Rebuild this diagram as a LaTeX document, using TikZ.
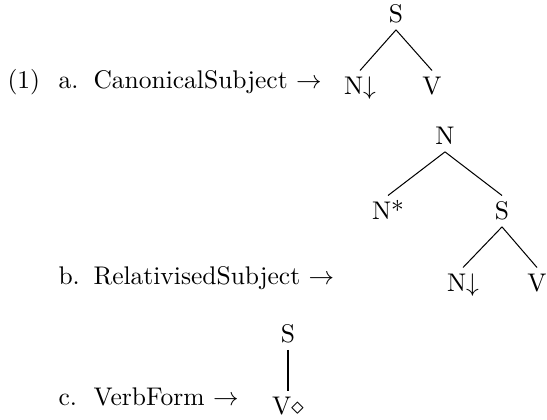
\documentclass[tikz,border=0pt]{standalone}
\begin{document}
\begin{tikzpicture}[x=0.392pt, y=-0.392pt,
  tn/.style={inner xsep=0pt, inner ysep=2.5pt, text height=6.9pt, text depth=0pt, anchor=base},
  lab/.style={inner sep=0pt, anchor=base west},
  edge/.style={line width=0.4pt}]
\useasboundingbox (0,0) rectangle (547,420);
% tree a
\node[tn] (aS) at (396,23) {S};
\node[tn] (aN) at (360,95) {N$\downarrow$};
\node[tn] (aV) at (432,95) {V};
\draw[edge] (aS.south) -- (aN.north);
\draw[edge] (aS.south) -- (aV.north);
% tree b
\node[tn] (bN) at (445,145) {N};
\node[tn] (bNs) at (388,220) {N*};
\node[tn] (bS) at (502,220) {S};
\node[tn] (bN2) at (463,292) {N$\downarrow$};
\node[tn] (bV) at (537,292) {V};
\draw[edge] (bN.south) -- (bNs.north);
\draw[edge] (bN.south) -- (bS.north);
\draw[edge] (bS.south) -- (bN2.north);
\draw[edge] (bS.south) -- (bV.north);
% tree c
\node[tn] (cS) at (288,343) {S};
\node[tn] (cV) at (288,415) {V$\diamond$};
\draw[edge] (cS.south) -- (cV.north);
% labels
\node[lab] (ex) at (7,89) {(1)};
\node[lab] (la) at (58,89) {a.};
\node[lab] (ta) at (93,89) {CanonicalSubject $\rightarrow$};
\node[lab] (lb) at (58,285) {b.};
\node[lab] (tb) at (93,285) {RelativisedSubject $\rightarrow$};
\node[lab] (lc) at (58,406) {c.};
\node[lab] (tc) at (93,406) {VerbForm $\rightarrow$};
\end{tikzpicture}
\end{document}
